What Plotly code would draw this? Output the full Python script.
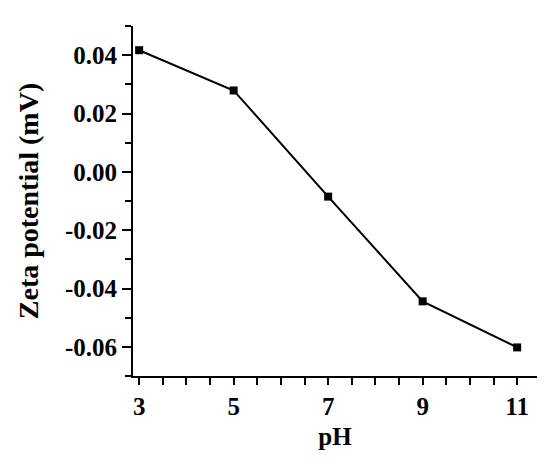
import plotly.graph_objects as go

ph = [3, 5, 7, 9, 11]
zeta = [0.0417, 0.0279, -0.0085, -0.0444, -0.0602]

x_tickvals = [3, 5, 7, 9, 11]
x_ticktext = ["3", "5", "7", "9", "11"]
y_tickvals = [0.04, 0.02, 0.00, -0.02, -0.04, -0.06]
y_ticktext = ["0.04", "0.02", "0.00", "-0.02", "-0.04", "-0.06"]

font_family = "Times New Roman, Liberation Serif, serif"

fig = go.Figure()
fig.add_trace(go.Scatter(
    x=ph, y=zeta, mode="lines+markers",
    line=dict(color="black", width=2),
    marker=dict(symbol="square", size=8, color="black"),
    showlegend=False,
))

# page body adds an 8px offset, so the figure is 8px smaller than the window
fig.update_layout(
    width=542, height=460,
    margin=dict(l=125, r=13, t=18, b=92),
    paper_bgcolor="white", plot_bgcolor="white",
    font=dict(family=font_family, color="black"),
)

fig.update_xaxes(
    range=[2.87, 11.42],
    tickmode="array", tickvals=x_tickvals, ticktext=x_ticktext,
    ticks="outside", ticklen=7, tickwidth=2, tickcolor="black",
    minor=dict(dtick=0.5, tick0=3, ticks="outside", ticklen=7, tickwidth=2, tickcolor="black", showgrid=False),
    showline=True, linecolor="black", linewidth=2,
    showgrid=False, zeroline=False,
    tickfont=dict(size=25, family=font_family, color="black", weight="bold"),
    title=dict(text="<b>pH</b>", font=dict(size=25, family=font_family, color="black"), standoff=8),
)

fig.update_yaxes(
    range=[-0.07, 0.05],
    tickmode="array", tickvals=y_tickvals, ticktext=y_ticktext,
    ticks="outside", ticklen=9, tickwidth=2, tickcolor="black",
    minor=dict(dtick=0.01, tick0=0, ticks="outside", ticklen=6, tickwidth=2, tickcolor="black", showgrid=False),
    showline=True, linecolor="black", linewidth=2,
    showgrid=False, zeroline=False,
    tickfont=dict(size=25, family=font_family, color="black", weight="bold"),
    title=dict(text="<b>Zeta potential (mV)</b>", font=dict(size=28, family=font_family, color="black"), standoff=18),
)

fig.write_html("out.html")
